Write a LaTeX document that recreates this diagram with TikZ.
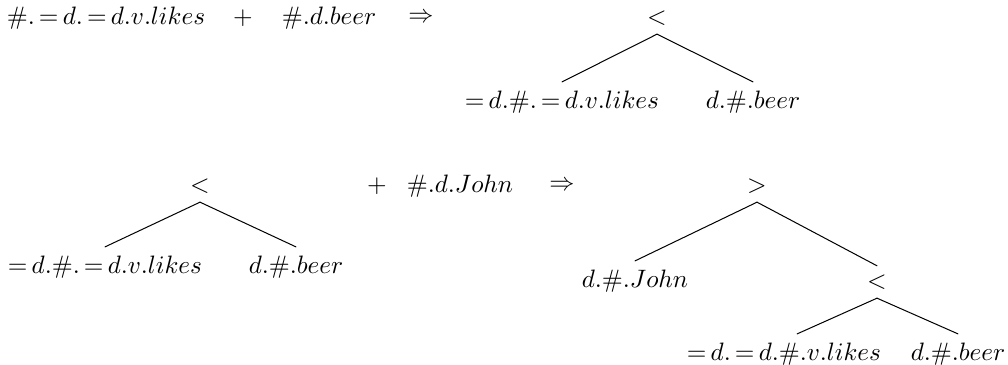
\documentclass[tikz,border=0pt]{standalone}
\thickmuskip=3mu
\begin{document}
\begin{tikzpicture}[x=0.397pt,y=-0.397pt,line join=round,line cap=round]
				\useasboundingbox (0,0) rectangle (1008,365);
				% first merge
				\node (a1) at (106,18) {$\#.=d.=d.v.likes$};
				\node (p1) at (243,18) {$+$};
				\node (b1) at (329,18) {$\#.d.beer$};
				\node (i1) at (421,18) {$\Rightarrow$};
				\node (t1) at (657,18) {$<$};
				\node (l1) at (562,102) {$=d.\#.=d.v.likes$};
				\node (r1) at (753,102) {$d.\#.beer$};
				% second merge
				\node (t2) at (200,186) {$<$};
				\node (l2) at (105,267) {$=d.\#.=d.v.likes$};
				\node (r2) at (296,267) {$d.\#.beer$};
				\node (p2) at (377,186) {$+$};
				\node (b2) at (460,186) {$\#.d.John$};
				\node (i2) at (562,186) {$\Rightarrow$};
				\node (t3) at (757,186) {$>$};
				\node (j3) at (635,281) {$d.\#.John$};
				\node (u3) at (877,282) {$<$};
				\node (l3) at (784,354) {$=d.=d.\#.v.likes$};
				\node (r3) at (958,354) {$d.\#.beer$};
				\foreach \x/\y in {t1/l1,t1/r1,t2/l2,t2/r2,t3/j3,t3/u3,u3/r3}{\draw (\x.south)--(\y.north);}
				\draw (u3.south)--([xshift=5.2pt]l3.north);
		\end{tikzpicture}
\end{document}
